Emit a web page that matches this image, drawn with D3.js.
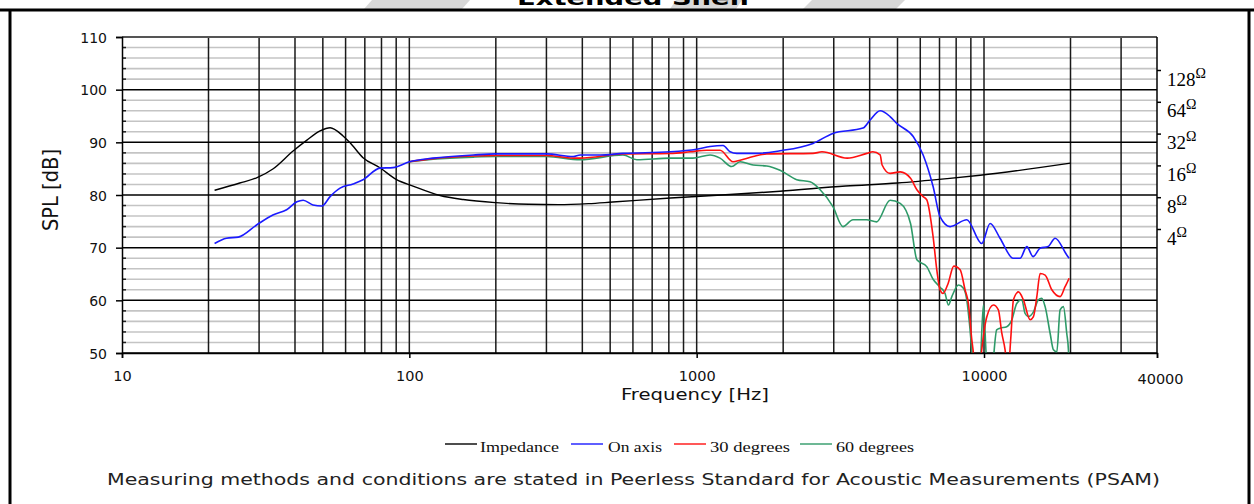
<!DOCTYPE html>
<html>
<head>
<meta charset="utf-8">
<script src="https://cdn.jsdelivr.net/npm/d3@7"></script>
<style>
  body { margin: 0; background: #fff; }
  svg { display: block; }
</style>
</head>
<body>
<div id="chart"></div>
<script>
// ---- data ----
var splTicks = [50, 60, 70, 80, 90, 100, 110];
var freqLabels = [10, 100, 1000, 10000, 40000];
var ohmTicks = [4, 8, 16, 32, 64, 128];
var legendNames = ["Impedance", "On axis", "30 degrees", "60 degrees"];

var impFreq = [21, 25.7, 29.4, 33.5, 39.4, 43.9, 48.9, 53, 58.8, 62.2, 69, 79, 90, 103, 128, 154, 200, 260, 330, 420, 510, 810, 1140, 1950, 3300, 5000, 7450, 9700, 20000];
var impOhm  = [9.3, 10.9, 12.2, 14.8, 21.9, 27.6, 33.9, 36.4, 30.4, 26.2, 18.9, 15.2, 11.8, 10.2, 8.3, 7.6, 7.1, 6.85, 6.8, 6.95, 7.2, 7.85, 8.3, 9.1, 10.2, 10.9, 12.0, 12.9, 16.8];

var onFreq = [21, 23.1, 25.4, 29.4, 33.5, 37.4, 40.6, 42.7, 46.2, 49.6, 53, 57.4, 63.7, 69, 79, 87.7, 100, 121, 167, 200, 300, 372, 393, 461, 554, 808, 1000, 1113, 1236, 1307, 1379, 1619, 1950, 2540, 2980, 3790, 4010, 4350, 4710, 4970, 5670, 6140, 6650, 7030, 7620, 8710, 9820, 10500, 11370, 12620, 13360, 14090, 14820, 15680, 16720, 17680, 19410, 19770];
var onSpl  = [70.8, 71.8, 72.0, 74.3, 76.2, 77.2, 78.7, 79.0, 78.1, 77.9, 79.7, 81.3, 82.1, 82.9, 85.1, 85.2, 86.3, 87.0, 87.6, 87.8, 87.8, 87.3, 87.6, 87.6, 87.9, 88.2, 88.7, 89.2, 89.4, 88.2, 87.9, 87.9, 88.4, 89.8, 91.7, 92.7, 94.2, 96.0, 94.9, 93.6, 91.1, 87.6, 81.6, 75.9, 74.0, 75.3, 70.8, 74.6, 71.8, 68.0, 68.0, 70.2, 68.3, 69.9, 70.2, 71.8, 68.6, 68.0];

var d30Freq = [100, 121, 167, 200, 300, 372, 393, 554, 808, 948, 1084, 1206, 1339, 1416, 1573, 1754, 2540, 2730, 3340, 3910, 4100, 4350, 4420, 4710, 5110, 5550, 5840, 6140, 6320, 6650, 6850, 7030, 7200, 7500, 7850, 8260, 8590, 8825, 9070, 9160, 9400, 9600, 9820, 10230, 10780, 11220, 11530, 11840, 12100, 12400, 12660, 13180, 13710, 14470, 14860, 15270, 15680, 16320, 17220, 18400, 19150, 19670, 19770];
var d30Spl  = [86.3, 86.9, 87.4, 87.5, 87.5, 87.0, 87.0, 87.8, 87.9, 88.2, 88.5, 88.5, 86.3, 86.6, 87.3, 87.8, 87.9, 88.2, 87.0, 87.9, 88.2, 87.6, 85.7, 84.1, 84.4, 83.2, 81.0, 79.7, 79.1, 72.1, 65.8, 62.0, 61.3, 63.2, 66.5, 65.8, 62.0, 59.4, 52.5, 50.6, 45, 45, 50.6, 56.9, 59.1, 58.2, 53.8, 50.6, 46, 53, 60.1, 61.6, 60.1, 56.3, 56.9, 60.7, 65.1, 64.8, 62.0, 60.7, 62.6, 63.9, 64.2];

var d60Freq = [100, 121, 167, 200, 300, 393, 554, 619, 808, 970, 1113, 1206, 1324, 1416, 1573, 1754, 1950, 2230, 2480, 2690, 2980, 3230, 3500, 3900, 4230, 4710, 5110, 5550, 5840, 6320, 6650, 7030, 7320, 7520, 7727, 8150, 8480, 8710, 8900, 9070, 9300, 9650, 9950, 10230, 10600, 11070, 11370, 12000, 12500, 13000, 13540, 13900, 14270, 14860, 15450, 15880, 16320, 16990, 17440, 17920, 18400, 18890, 19410, 19670, 19770];
var d60Spl  = [86.3, 86.8, 87.2, 87.3, 87.3, 86.7, 87.6, 86.7, 87.0, 87.0, 87.6, 87.0, 85.4, 86.3, 85.7, 85.5, 84.7, 82.9, 82.5, 81.0, 77.8, 74.0, 75.3, 75.3, 74.9, 79.0, 78.4, 74.6, 67.7, 66.4, 64.0, 62.5, 61.3, 59.1, 60.7, 62.9, 62.3, 60.1, 55.6, 50.6, 46, 46, 59.1, 48, 46, 54.4, 54.7, 55.0, 56.3, 59.4, 60.1, 57.5, 56.9, 57.8, 60.1, 60.4, 58.8, 53.7, 50.6, 50.2, 58.2, 58.8, 53.7, 50.6, 47];

// ---- svg setup ----
var svgWidth = 1254;
var svgHeight = 504;
var margin = { top: 37, right: 97, bottom: 151, left: 122 };
var width = svgWidth - margin.left - margin.right;
var height = svgHeight - margin.top - margin.bottom;

var svg = d3.select("#chart")
  .append("svg")
  .attr("width", svgWidth)
  .attr("height", svgHeight);

// faint watermark pieces and the cut-off title at the very top
var marks = [
  [[372, 0], [470, 0], [462, 9], [364, 9]],
  [[676, 0], [742, 0], [736, 9], [670, 9]],
  [[812, 0], [905, 0], [896, 9], [803, 9]]
];
svg.selectAll(".wm").data(marks).enter().append("polygon")
  .attr("points", d => d.map(p => p.join(",")).join(" "))
  .attr("fill", "#d8d8d8");

svg.append("text")
  .attr("x", 517).attr("y", 5)
  .attr("textLength", 234).attr("lengthAdjust", "spacingAndGlyphs")
  .attr("font-family", "DejaVu Sans").attr("font-weight", "bold").attr("font-size", 20)
  .text("Extended Shelf");

// outer frame
svg.append("line").attr("x1", 0).attr("x2", svgWidth).attr("y1", 10).attr("y2", 10)
  .attr("stroke", "#000").attr("stroke-width", 3);
svg.append("line").attr("x1", 10).attr("x2", 10).attr("y1", 10).attr("y2", svgHeight)
  .attr("stroke", "#000").attr("stroke-width", 3);
svg.append("line").attr("x1", 1249).attr("x2", 1249).attr("y1", 10).attr("y2", svgHeight)
  .attr("stroke", "#000").attr("stroke-width", 3);

var chartGroup = svg.append("g")
  .attr("transform", `translate(${margin.left}, ${margin.top})`);

// scales
var xLogScale = d3.scaleLog().domain([10, 40000]).range([0, width]);
var yLinearScale = d3.scaleLinear().domain([50, 110]).range([height, 0]);
var yOhmScale = d3.scaleLog().base(2).domain([4, 128]).range([229 - margin.top, 70 - margin.top]);

// minor horizontal grid every 2 dB
var minorDb = d3.range(52, 110, 2).filter(d => d % 10 !== 0);
chartGroup.selectAll(".minor").data(minorDb).enter().append("line")
  .attr("x1", 0).attr("x2", width)
  .attr("y1", d => yLinearScale(d)).attr("y2", d => yLinearScale(d))
  .attr("stroke", "#c4c4c4").attr("stroke-width", 1.6);

// vertical grid at 2..9 x each decade
var gridFreq = xLogScale.ticks().filter(d => d > 10 && d < 40000);
chartGroup.selectAll(".vgrid").data(gridFreq).enter().append("line")
  .attr("x1", d => xLogScale(d)).attr("x2", d => xLogScale(d))
  .attr("y1", 0).attr("y2", height)
  .attr("stroke", "#1a1a1a").attr("stroke-width", 1.5);

// major horizontal grid
chartGroup.selectAll(".major").data(splTicks).enter().append("line")
  .attr("x1", 0).attr("x2", width)
  .attr("y1", d => yLinearScale(d)).attr("y2", d => yLinearScale(d))
  .attr("stroke", d => d === 110 ? "#555" : "#000")
  .attr("stroke-width", d => d === 110 ? 2.2 : 1.5);

// right border of plot
chartGroup.append("line").attr("x1", width).attr("x2", width).attr("y1", 0).attr("y2", height)
  .attr("stroke", "#000").attr("stroke-width", 1.5);

// little inside ticks on the left axis
chartGroup.selectAll(".mtick").data(minorDb).enter().append("line")
  .attr("x1", 0).attr("x2", 4)
  .attr("y1", d => yLinearScale(d)).attr("y2", d => yLinearScale(d))
  .attr("stroke", "#222").attr("stroke-width", 1.5);

// curves
chartGroup.append("clipPath").attr("id", "plotclip")
  .append("rect").attr("x", 0).attr("y", 0).attr("width", width).attr("height", height);

var splLine = d3.line()
  .x(d => xLogScale(d[0]))
  .y(d => yLinearScale(d[1]))
  .curve(d3.curveMonotoneX);

var ohmLine = d3.line()
  .x(d => xLogScale(d[0]))
  .y(d => yOhmScale(d[1]))
  .curve(d3.curveMonotoneX);

var curves = chartGroup.append("g").attr("clip-path", "url(#plotclip)");

curves.append("path")
  .datum(d3.zip(impFreq, impOhm))
  .attr("d", ohmLine)
  .attr("fill", "none").attr("stroke", "#000").attr("stroke-width", 1.4);

curves.append("path")
  .datum(d3.zip(d60Freq, d60Spl))
  .attr("d", splLine)
  .attr("fill", "none").attr("stroke", "#2e9a68").attr("stroke-width", 1.6);

curves.append("path")
  .datum(d3.zip(d30Freq, d30Spl))
  .attr("d", splLine)
  .attr("fill", "none").attr("stroke", "#ff1010").attr("stroke-width", 1.6);

curves.append("path")
  .datum(d3.zip(onFreq, onSpl))
  .attr("d", splLine)
  .attr("fill", "none").attr("stroke", "#1a1aff").attr("stroke-width", 1.6);

// left axis
var leftAxis = d3.axisLeft(yLinearScale).tickValues(splTicks).tickSize(6).tickPadding(9);
var yAxis = chartGroup.append("g").call(leftAxis);
yAxis.select(".domain").attr("stroke", "#000").attr("stroke-width", 1.5);
yAxis.selectAll(".tick line").attr("stroke", "#000").attr("stroke-width", 1.5);
yAxis.selectAll(".tick text")
  .attr("font-family", "DejaVu Sans").attr("font-size", 14).attr("fill", "#111")
  .attr("dy", "0.36em");

// bottom axis
var bottomAxis = d3.axisBottom(xLogScale).tickValues(freqLabels)
  .tickFormat(d3.format("d")).tickSize(5).tickPadding(11);
var xAxis = chartGroup.append("g")
  .attr("transform", `translate(0, ${height})`)
  .call(bottomAxis);
xAxis.select(".domain").attr("stroke", "#000").attr("stroke-width", 1.5);
xAxis.selectAll(".tick line").attr("stroke", "#000").attr("stroke-width", 1.5);
xAxis.selectAll(".tick text")
  .attr("font-family", "DejaVu Sans").attr("font-size", 14.5).attr("fill", "#111")
  .attr("dx", d => d === 40000 ? 3 : 0)
  .attr("dy", d => d === 40000 ? "1.0em" : "0.82em");

// right impedance axis
var rightAxis = d3.axisRight(yOhmScale).tickValues(ohmTicks).tickSize(4).tickFormat("");
var zAxis = chartGroup.append("g")
  .attr("transform", `translate(${width}, 0)`)
  .call(rightAxis);
zAxis.select(".domain").remove();
zAxis.selectAll(".tick line").attr("stroke", "#000").attr("stroke-width", 1.5);
var zText = zAxis.selectAll(".tick").append("text")
  .attr("x", 10).attr("y", 15)
  .attr("font-family", "Liberation Serif").attr("font-size", 19)
  .attr("fill", "#000").attr("text-anchor", "start");
zText.append("tspan").text(d => d);
zText.append("tspan").attr("font-size", 14).attr("dy", -8).text("Ω");

// axis titles
svg.append("text")
  .attr("transform", "translate(58, 190) scale(1.25, 1) rotate(-90)")
  .attr("text-anchor", "middle")
  .attr("font-family", "DejaVu Sans").attr("font-size", 17).attr("fill", "#111")
  .attr("textLength", 82).attr("lengthAdjust", "spacingAndGlyphs")
  .text("SPL [dB]");

svg.append("text")
  .attr("x", 621).attr("y", 400)
  .attr("font-family", "DejaVu Sans").attr("font-size", 15).attr("fill", "#111")
  .attr("textLength", 148).attr("lengthAdjust", "spacingAndGlyphs")
  .text("Frequency [Hz]");

// legend
var legendColors = ["#000", "#1a1aff", "#ff1010", "#2e9a68"];
var legendLineX = [445, 571, 674, 800];
var legendTextX = [480, 608, 710, 836];
var legendTextLen = [79, 54, 80, 78];
var legend = svg.append("g");
legendNames.forEach((name, i) => {
  legend.append("line")
    .attr("x1", legendLineX[i]).attr("x2", legendLineX[i] + 32)
    .attr("y1", 444).attr("y2", 444)
    .attr("stroke", legendColors[i]).attr("stroke-width", 1.4);
  legend.append("text")
    .attr("x", legendTextX[i]).attr("y", 452)
    .attr("font-family", "Liberation Serif").attr("font-size", 15).attr("fill", "#111")
    .attr("textLength", legendTextLen[i]).attr("lengthAdjust", "spacingAndGlyphs")
    .text(name);
});

// footnote
svg.append("text")
  .attr("x", 107).attr("y", 485)
  .attr("font-family", "DejaVu Sans").attr("font-size", 15.5).attr("fill", "#222")
  .attr("textLength", 1053).attr("lengthAdjust", "spacingAndGlyphs")
  .text("Measuring methods and conditions are stated in Peerless Standard for Acoustic Measurements (PSAM)");
</script>
</body>
</html>
